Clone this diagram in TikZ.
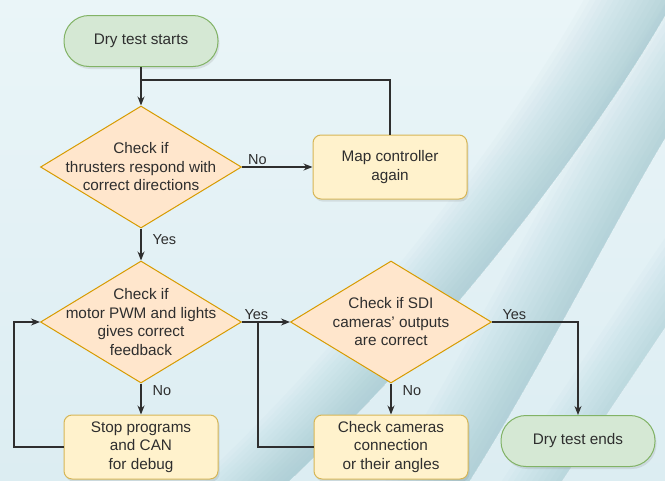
\documentclass[tikz,border=0pt]{standalone}
\usepackage{fontspec}
\setmainfont{Liberation Sans}
\usepackage{tikz}
\usetikzlibrary{shapes.geometric, arrows.meta, positioning, calc, shadows}
\usepackage{xcolor}

\definecolor{bgtop}{HTML}{EAF5F8}
\definecolor{bgbot}{HTML}{DCEDF2}
\definecolor{swoosh}{HTML}{86B9C2}
\definecolor{termfill}{HTML}{D5E8D4}
\definecolor{termdraw}{HTML}{82B366}
\definecolor{procfill}{HTML}{FFF2CC}
\definecolor{procdraw}{HTML}{D6B656}
\definecolor{decfill}{HTML}{FFE6CC}
\definecolor{decdraw}{HTML}{D79B00}
\definecolor{inkgray}{HTML}{2E2E2E}

\begin{document}
\begin{tikzpicture}[>={Stealth[length=9pt,width=7pt]}, line/.style={draw=inkgray, line width=1.1pt}, every node/.style={font=\fontsize{15.3}{18.5}\selectfont, text=inkgray}]
    % Define styles for terminals, boxes, decisions and branch labels
    \tikzstyle{terminal} = [draw=termdraw, fill=termfill, rectangle, rounded corners=25pt, minimum height=51pt, minimum width=154pt, align=center, line width=1pt, drop shadow={shadow xshift=1.5pt, shadow yshift=-2.5pt, opacity=0.18}]
    \tikzstyle{process} = [draw=procdraw, fill=procfill, rectangle, rounded corners=8pt, minimum height=64pt, minimum width=154pt, align=center, line width=1pt, drop shadow={shadow xshift=1.5pt, shadow yshift=-2.5pt, opacity=0.18}]
    \tikzstyle{decision} = [draw=decdraw, fill=decfill, diamond, aspect=1.65, inner xsep=-25pt, inner ysep=-20pt, minimum width=201pt, minimum height=122pt, align=center, line width=1pt]
    \tikzstyle{branch} = [font=\fontsize{14.5}{17}\selectfont, inner sep=2pt]

    % Background with the diagonal swooshes
    \useasboundingbox (0,0) rectangle (665pt,-480pt);
    \fill[top color=bgtop, bottom color=bgbot] (0,0) rectangle (665pt,-480pt);
    \begin{scope}
        \clip (0,0) rectangle (665pt,-480pt);
        \foreach \w in {6,12,...,90} {
            \fill[swoosh, fill opacity=0.038] ({760pt-\w pt},150pt) -- ({668pt-\w pt},-10pt) .. controls ({600pt-\w pt},-130pt) and ({450pt-\w pt},-330pt) .. ({290pt-\w pt},-480pt) -- ({270pt-\w pt},-500pt) -- (270pt,-500pt) -- (290pt,-480pt) .. controls (450pt,-330pt) and (600pt,-130pt) .. (668pt,-10pt) -- (760pt,150pt) -- cycle;
        }
        \foreach \w in {6,12,...,84} {
            \fill[swoosh, fill opacity=0.038] ({776pt-\w pt},40pt) -- ({676pt-\w pt},-120pt) .. controls ({620pt-\w pt},-210pt) and ({540pt-\w pt},-370pt) .. ({470pt-\w pt},-480pt) -- ({455pt-\w pt},-505pt) -- (455pt,-505pt) -- (470pt,-480pt) .. controls (540pt,-370pt) and (620pt,-210pt) .. (676pt,-120pt) -- (776pt,40pt) -- cycle;
        }
        \foreach \w in {6,12,...,60} {
            \fill[swoosh, fill opacity=0.038] ({772pt-\w pt},-168pt) -- ({549pt-\w pt},-500pt) -- (549pt,-500pt) -- (772pt,-168pt) -- cycle;
        }
    \end{scope}

    % Nodes placement
    \node [terminal] (start) at (141pt,-41pt) {Dry test starts};
    \node [decision, below of=start, node distance=126pt] (thrust) {Check if\\thrusters respond with\\correct directions};
    \node [process, right of=thrust, node distance=249pt] (remap) {Map controller\\again};
    \node [decision, below of=thrust, node distance=155pt] (pwm) {Check if\\motor PWM and lights\\gives correct\\feedback};
    \node [decision, right of=pwm, node distance=250pt] (sdi) {Check if SDI\\cameras' outputs\\are correct};
    \node [process, below of=pwm, node distance=125pt] (debug) {Stop programs\\and CAN\\for debug};
    \node [process, below of=sdi, node distance=125pt] (camfix) {Check cameras\\connection\\or their angles};
    \node [terminal, right of=camfix, node distance=187pt, yshift=6pt] (finish) {Dry test ends};

    % Turning points of the loops
    \coordinate [above of=thrust, node distance=87pt] (remapjoin);
    \coordinate [left of=debug, node distance=127pt] (debugturn);
    \coordinate [right of=pwm, node distance=117pt] (camjoin);

    % Draw edges
    \draw[line,->] (start) -- (thrust);
    \draw[line,->] (thrust) -- node[branch, above, pos=0.22] {No} (remap);
    \draw[line] (remap.north) |- (remapjoin);
    \draw[line,->] (thrust) -- node[branch, right, pos=0.35, xshift=9pt] {Yes} (pwm);
    \draw[line,->] (pwm) -- node[branch, right, pos=0.22, xshift=9pt] {No} (debug);
    \draw[line,->] (debug.west) -- (debugturn) |- (pwm.west);
    \draw[line,->] (pwm) -- node[branch, above, pos=0.3] {Yes} (sdi);
    \draw[line] (camfix.west) -| (camjoin);
    \draw[line,->] (sdi) -- node[branch, right, pos=0.22, xshift=9pt] {No} (camfix);
    \draw[line,->] (sdi.east) -| node[branch, above, pos=0.13] {Yes} (finish.north);
\end{tikzpicture}
\end{document}
